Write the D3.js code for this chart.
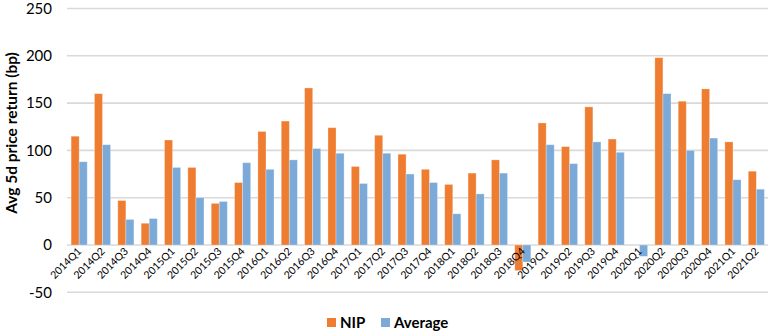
<!DOCTYPE html>
<html><head><meta charset="utf-8">
<script src="https://cdn.jsdelivr.net/npm/d3@7"></script>
<style>body{margin:0;background:#fff;}svg{display:block;}</style>
</head><body><svg id="c" width="770" height="331"></svg>
<script>
const categories = ["2014Q1","2014Q2","2014Q3","2014Q4","2015Q1","2015Q2","2015Q3","2015Q4",
"2016Q1","2016Q2","2016Q3","2016Q4","2017Q1","2017Q2","2017Q3","2017Q4",
"2018Q1","2018Q2","2018Q3","2018Q4","2019Q1","2019Q2","2019Q3","2019Q4",
"2020Q1","2020Q2","2020Q3","2020Q4","2021Q1","2021Q2"];
const nip = [115,160,47,23,111,82,44,66,120,131,166,124,83,116,96,80,64,76,90,-27,129,104,146,112,0,198,152,165,109,78];
const average = [88,106,27,28,82,50,46,87,80,90,102,97,65,97,75,66,33,54,76,-18,106,86,109,98,-12,160,100,113,69,59];
const seriesNames = ["NIP","Average"];
const yTicks = [-50,0,50,100,150,200,250];
const colors = ["#EE7D31","#7BAAD9"];

const svg = d3.select("#c");
const x = d3.scaleBand().domain(categories).range([67.5,768]).paddingInner(0.31).paddingOuter(0.155);
const x1 = d3.scaleBand().domain(seriesNames).range([0,x.bandwidth()]);
const y = d3.scaleLinear().domain([-50,250]).range([292.3,8.5]);

// gridlines
svg.append("g").selectAll("line").data(yTicks).join("line")
  .attr("x1",67).attr("x2",768).attr("y1",d=>y(d)).attr("y2",d=>y(d))
  .attr("stroke","#D9D9D9").attr("stroke-width",1.6);

// y tick labels
svg.append("g").selectAll("text").data(yTicks).join("text")
  .attr("x",52).attr("y",d=>y(d)).attr("dy","0.35em").attr("text-anchor","end")
  .attr("font-family","Lato, 'Open Sans', sans-serif").attr("font-size",15).attr("fill","#000")
  .text(d=>d);

// y axis title
svg.append("text").attr("transform","translate(17,133) rotate(-90)")
  .attr("text-anchor","middle").attr("font-family","Lato, 'Open Sans', sans-serif")
  .attr("font-weight","bold").attr("font-size",15.5).attr("fill","#000")
  .text("Avg 5d price return (bp)");

// bars
const data = [nip, average];
const g = svg.append("g");
seriesNames.forEach((s,si)=>{
  g.append("g").selectAll("rect").data(categories).join("rect")
    .attr("x",(c)=>x(c)+x1(s))
    .attr("width",x1.bandwidth())
    .attr("y",(c,i)=>y(Math.max(0,data[si][i])))
    .attr("height",(c,i)=>Math.abs(y(data[si][i])-y(0)))
    .attr("fill",colors[si])
    .attr("stroke","rgba(255,255,255,0.35)").attr("stroke-width",0.8);
});

// x tick labels
svg.append("g").selectAll("text").data(categories).join("text")
  .attr("transform",c=>`translate(${x(c)+x.bandwidth()/2+3},252) rotate(-45)`)
  .attr("text-anchor","end").attr("font-family","Lato, 'Open Sans', sans-serif")
  .attr("font-size",10.5).attr("fill","#000").text(c=>c);

// legend
const leg = svg.append("g");
const legX = [327,381];
seriesNames.forEach((s,i)=>{
  leg.append("rect").attr("x",legX[i]).attr("y",318).attr("width",9).attr("height",9).attr("fill",colors[i]);
  leg.append("text").attr("x",legX[i]+13).attr("y",327.5)
    .attr("font-family","Lato, 'Open Sans', sans-serif").attr("font-weight","bold")
    .attr("font-size",15).attr("fill","#000").text(s);
});
</script></body></html>
